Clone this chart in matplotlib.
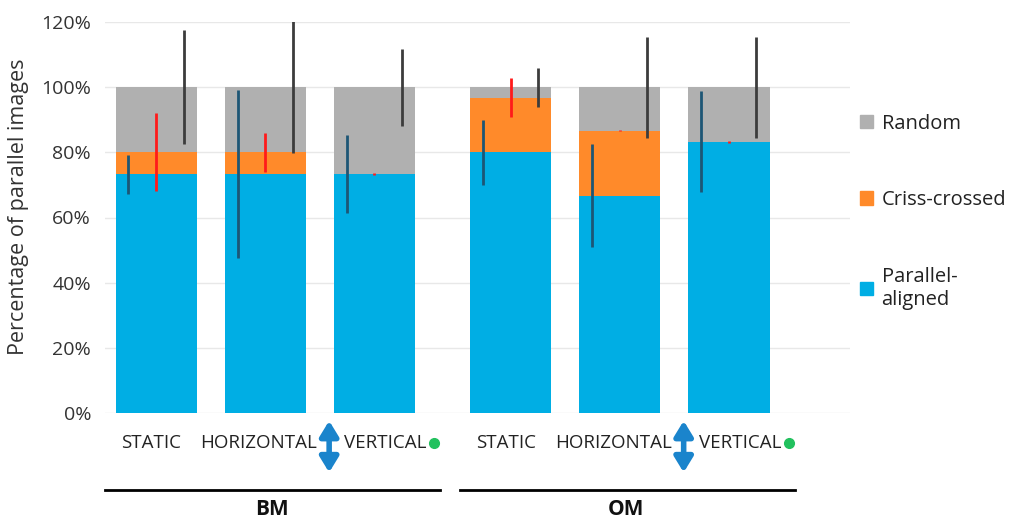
import numpy as np
import matplotlib
matplotlib.use("Agg")
import matplotlib.pyplot as plt
from matplotlib.patches import Patch
from matplotlib.transforms import blended_transform_factory

plt.rcParams['font.family'] = ['Open Sans', 'DejaVu Sans']

# data (percent of images)
groups = ["BM", "OM"]
conditions = ["STATIC", "HORIZONTAL", "VERTICAL"]
parallel = [73.3, 73.3, 73.3, 80.0, 66.7, 83.3]
criss = [6.7, 6.7, 0.0, 16.7, 20.0, 0.0]
random_ = [20.0, 20.0, 26.7, 3.3, 13.3, 16.7]
parallel_err = [6.0, 25.7, 12.0, 10.0, 15.8, 15.5]
criss_err = [12.0, 6.0, 0.3, 6.0, 0.3, 0.3]
random_err = [17.5, 20.3, 11.8, 6.0, 15.5, 15.5]
series_names = ["Parallel-\naligned", "Criss-crossed", "Random"]
yticks = [0, 20, 40, 60, 80, 100, 120]

c_par, c_cri, c_ran = "#00aee4", "#ff8a2a", "#b0b0b0"
e_par, e_cri, e_ran = "#1d5675", "#ff1a1a", "#3c3c3c"

# layout
x = np.array([g * 3.25 + i for g in range(len(groups)) for i in range(len(conditions))])
w = 0.745
par = np.array(parallel); cri = np.array(criss); ran = np.array(random_)

fig = plt.figure(figsize=(10.16, 5.2), dpi=100)
ax = fig.add_axes([105/1016, 1-413/520, 745/1016, 391/520])

ax.bar(x, par, w, color=c_par, zorder=2)
ax.bar(x, cri, w, bottom=par, color=c_cri, zorder=2)
ax.bar(x, ran, w, bottom=par+cri, color=c_ran, zorder=2)

ek = dict(fmt="none", lw=2, capsize=0, zorder=3)
ax.errorbar(x-0.255, par, yerr=parallel_err, ecolor=e_par, **ek)
ax.errorbar(x, par+cri, yerr=criss_err, ecolor=e_cri, **ek)
ax.errorbar(x+0.25, par+cri+ran, yerr=random_err, ecolor=e_ran, **ek)

ax.set_xlim(-0.47, 6.36)
ax.set_ylim(0, 120)
ax.set_yticks(yticks)
ax.set_yticklabels([f"{v}%" for v in yticks], fontsize=14, color="#333333")
ax.yaxis.grid(True, color="#e8e8e8", lw=1, zorder=0)
ax.tick_params(axis="y", length=0, pad=10)
ax.set_xticks([])
for s in ax.spines.values():
    s.set_visible(False)
ax.set_ylabel("Percentage of parallel images", fontsize=15.5, color="#333333")
ax.yaxis.set_label_coords(-0.102, 0.527)

tr = blended_transform_factory(ax.transData, ax.transAxes)
dx = [-0.045, -0.06, 0.1]
for k, xi in enumerate(x):
    ax.text(xi + dx[k % 3], -0.078, conditions[k % 3], transform=tr, ha="center", va="center",
            fontsize=13.5, color="#222222")

for g, name in enumerate(groups):
    x0 = g * 3.25
    # double-headed arrow between HORIZONTAL and VERTICAL
    ax.annotate("", xy=(x0 + 1.585, -0.02), xytext=(x0 + 1.585, -0.152),
                xycoords=tr, textcoords=tr, annotation_clip=False,
                arrowprops=dict(arrowstyle="<|-|>,head_width=0.55,head_length=0.9",
                                lw=4, color="#1a84cc", shrinkA=0, shrinkB=0))
    ax.plot([x0 + 2.55], [-0.077], "o", ms=7, color="#22c15e", transform=tr, clip_on=False)
    ax.plot([x0 - 0.47, x0 + 2.605], [-0.197, -0.197], color="black", lw=2, transform=tr, clip_on=False)
    ax.text(x0 + 1.06, -0.248, name, transform=tr, ha="center", va="center",
            fontsize=15, fontweight="bold", color="#111111")

handles = [Patch(color=c_ran), Patch(color=c_cri), Patch(color=c_par)]
fig.legend(handles, series_names[::-1], loc="upper left", bbox_to_anchor=(0.829, 0.816),
           frameon=False, fontsize=14.5, handlelength=0.65, handleheight=0.65,
           handletextpad=0.4, labelspacing=2.8, labelcolor="#222222")

fig.savefig("out.png", dpi=100)
